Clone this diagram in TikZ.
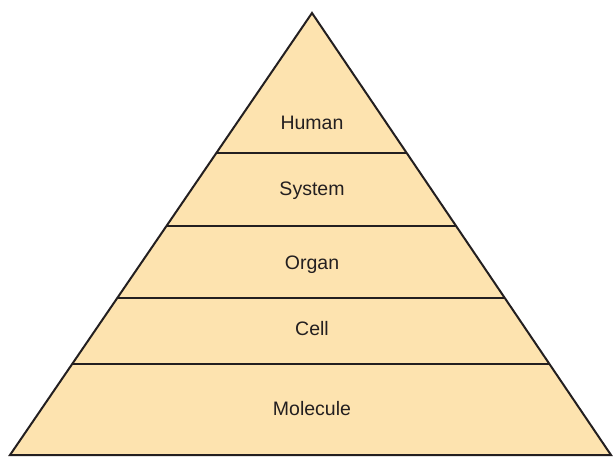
\documentclass[tikz,border=0pt]{standalone}
\usepackage{fontspec}
\setmainfont{Liberation Sans}
\usepackage{tikz}
\usetikzlibrary{calc}
\definecolor{sand}{HTML}{FDE3AF}
\definecolor{ink}{HTML}{231F20}

\begin{document}
\begin{tikzpicture}[x=1pt, y=-1pt,
  level/.style={font=\fontsize{19.5}{22}\selectfont, text=ink}]
\useasboundingbox (0,0) rectangle (613,458);
\coordinate (apex) at (312,13);
\coordinate (bl) at (10,455);
\coordinate (br) at (611,455);
\fill[sand] (apex) -- (bl) -- (br) -- cycle;
% dividers between the levels
\foreach \t in {0.3167, 0.4819, 0.6448, 0.7941}
  \draw[ink, line width=1.1pt] ($(apex)!\t!(bl)$) -- ($(apex)!\t!(br)$);
\draw[ink, line width=2pt, line join=miter] (apex) -- (bl) -- (br) -- cycle;

\node[level] (human) at (312,123) {Human};
\node[level] (system) at (312,191) {System};
\node[level] (organ) at (312,265) {Organ};
\node[level] (cell) at (312,329) {Cell};
\node[level] (molecule) at (312,409) {Molecule};
\end{tikzpicture}
\end{document}
